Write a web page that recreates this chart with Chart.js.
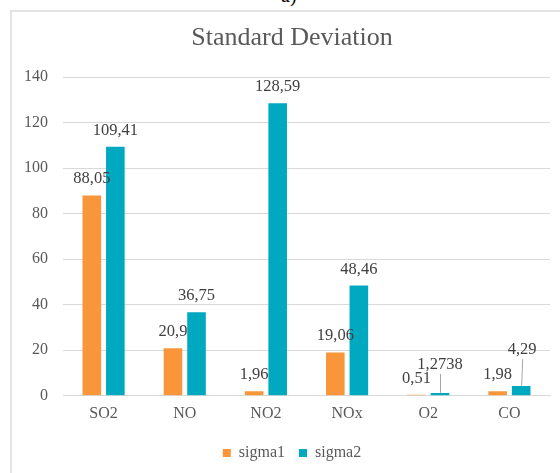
<!DOCTYPE html>
<html>
<head>
<meta charset="utf-8">
<script src="https://cdn.jsdelivr.net/npm/chart.js@4/dist/chart.umd.min.js"></script>
<style>
  html, body { margin: 0; padding: 0; background: #ffffff; overflow: hidden; width: 560px; height: 473px; }
  #frame { position: absolute; left: 10px; top: 10px; width: 620px; height: 520px; border: 2px solid #e3e3e3; box-sizing: border-box; }
  #panel { position: absolute; left: 281px; top: -15px; font-family: "Liberation Serif", "DejaVu Serif", serif; font-size: 20px; line-height: 20px; color: #000; }
  #chart { position: absolute; left: 0; top: 0; }
</style>
</head>
<body>
<div id="frame"></div>
<div id="panel">a)</div>
<canvas id="chart" width="560" height="473"></canvas>
<script>
// Pollutant categories and the two standard-deviation series
const categories = ['SO2', 'NO', 'NO2', 'NOx', 'O2', 'CO'];
const sigma1 = [88.05, 20.9, 1.96, 19.06, 0.51, 1.98];
const sigma2 = [109.41, 36.75, 128.59, 48.46, 1.2738, 4.29];
const yTicks = [0, 20, 40, 60, 80, 100, 120, 140];

const ORANGE = '#F9963B';
const TEAL = '#00A9C0';
const SERIF = "'Liberation Serif', 'DejaVu Serif', serif";

// Labels that are lifted above their bar and tied back with a leader line
const liftedLabels = { 1: { 4: { lift: 12, dx: 0 }, 5: { lift: 20, dx: 1 } } };

const valueLabels = {
  id: 'valueLabels',
  afterDatasetsDraw(chart) {
    const ctx = chart.ctx;
    ctx.save();
    ctx.font = '16.5px ' + SERIF;
    ctx.fillStyle = '#404040';
    ctx.textAlign = 'center';
    ctx.textBaseline = 'alphabetic';
    chart.data.datasets.forEach((ds, di) => {
      const meta = chart.getDatasetMeta(di);
      meta.data.forEach((bar, i) => {
        const txt = String(ds.data[i]).replace('.', ',');
        const lifted = liftedLabels[di] && liftedLabels[di][i];
        const lift = lifted ? lifted.lift : 0;
        const dx = lifted ? lifted.dx : 0;
        const base = bar.y - 12 - lift;
        ctx.fillText(txt, bar.x + dx, base);
        if (lifted) {
          ctx.save();
          ctx.strokeStyle = '#a6a6a6';
          ctx.lineWidth = 1;
          ctx.beginPath();
          ctx.moveTo(bar.x + dx + 0.5, base + 5);
          ctx.lineTo(bar.x + 0.5, bar.y);
          ctx.stroke();
          ctx.restore();
        }
      });
    });
    ctx.restore();
  }
};

// Title and legend are centred over the framed panel rather than the full canvas
const frameCentering = {
  id: 'frameCentering',
  afterLayout(chart) {
    if (chart.titleBlock) chart.titleBlock.left = 34;
    if (chart.legend) chart.legend.left = 34;
  }
};

function drawChart() {
  new Chart(document.getElementById('chart'), {
    type: 'bar',
    data: {
      labels: categories,
      datasets: [
        { label: 'sigma1', data: sigma1, backgroundColor: ORANGE, categoryPercentage: 0.58, barPercentage: 0.79 },
        { label: 'sigma2', data: sigma2, backgroundColor: TEAL, categoryPercentage: 0.58, barPercentage: 0.79 }
      ]
    },
    options: {
      responsive: false,
      animation: false,
      devicePixelRatio: 1,
      layout: { padding: { left: 0, right: 10, top: 0, bottom: 2 } },
      plugins: {
        title: {
          display: true,
          text: 'Standard Deviation',
          color: '#595959',
          font: { family: SERIF, size: 26, weight: 'normal' },
          padding: { top: 23, bottom: 23 }
        },
        legend: {
          position: 'bottom',
          labels: {
            color: '#595959',
            font: { family: SERIF, size: 16 },
            boxWidth: 8,
            boxHeight: 8,
            padding: 14
          }
        },
        tooltip: { enabled: false }
      },
      scales: {
        x: {
          grid: { display: false, drawTicks: false },
          border: { display: true, color: '#d9d9d9', width: 1 },
          ticks: { color: '#595959', font: { family: SERIF, size: 16 }, padding: 8 }
        },
        y: {
          min: 0,
          max: 140,
          afterFit(scale) { scale.width = 63; },
          afterBuildTicks(scale) { scale.ticks = yTicks.map(v => ({ value: v })); },
          grid: { color: '#d9d9d9', lineWidth: 1, drawTicks: false },
          border: { display: false },
          ticks: { color: '#595959', font: { family: SERIF, size: 16 }, padding: 15 }
        }
      }
    },
    plugins: [valueLabels, frameCentering]
  });
}

Chart.defaults.font.family = SERIF;
if (document.fonts && document.fonts.load) {
  Promise.all([
    document.fonts.load("16px 'Liberation Serif'"),
    document.fonts.load("26px 'Liberation Serif'")
  ]).then(drawChart, drawChart);
} else {
  drawChart();
}
</script>
</body>
</html>
